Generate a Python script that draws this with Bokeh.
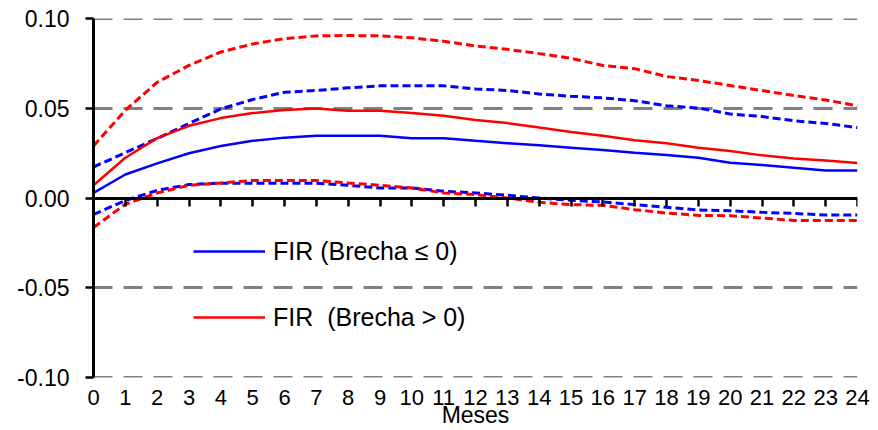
from bokeh.plotting import figure
from bokeh.models import LinearAxis, FixedTicker, Legend, LegendItem, Range1d
from bokeh.embed import file_html
from bokeh.resources import INLINE

months = list(range(25))

blue_mid = [0.0028, 0.0131, 0.0193, 0.0250, 0.0290, 0.0319, 0.0337, 0.0347, 0.0347, 0.0347,
            0.0334, 0.0334, 0.0319, 0.0306, 0.0294, 0.0281, 0.0268, 0.0253, 0.0240, 0.0225,
            0.0197, 0.0184, 0.0169, 0.0154, 0.0154]
blue_hi = [0.0173, 0.0253, 0.0332, 0.0416, 0.0497, 0.0550, 0.0590, 0.0600, 0.0615, 0.0626,
           0.0626, 0.0626, 0.0609, 0.0600, 0.0581, 0.0568, 0.0559, 0.0543, 0.0515, 0.0502,
           0.0469, 0.0455, 0.0431, 0.0416, 0.0393]
blue_lo = [-0.0092, -0.0014, 0.0042, 0.0075, 0.0083, 0.0083, 0.0083, 0.0083, 0.0071, 0.0056,
           0.0056, 0.0038, 0.0028, 0.0015, 0.0000, -0.0013, -0.0022, -0.0037, -0.0052, -0.0067,
           -0.0071, -0.0080, -0.0086, -0.0095, -0.0095]
red_mid = [0.0071, 0.0225, 0.0334, 0.0403, 0.0446, 0.0474, 0.0491, 0.0500, 0.0487, 0.0487,
           0.0474, 0.0459, 0.0435, 0.0418, 0.0393, 0.0369, 0.0347, 0.0323, 0.0306, 0.0281,
           0.0262, 0.0238, 0.0221, 0.0210, 0.0195]
red_hi = [0.0290, 0.0490, 0.0646, 0.0740, 0.0815, 0.0860, 0.0890, 0.0905, 0.0907, 0.0905,
          0.0894, 0.0875, 0.0849, 0.0830, 0.0806, 0.0780, 0.0740, 0.0722, 0.0678, 0.0656,
          0.0628, 0.0600, 0.0572, 0.0547, 0.0515]
red_lo = [-0.0165, -0.0035, 0.0028, 0.0071, 0.0084, 0.0098, 0.0098, 0.0098, 0.0084, 0.0071,
          0.0056, 0.0028, 0.0019, 0.0000, -0.0024, -0.0037, -0.0041, -0.0065, -0.0084, -0.0097,
          -0.0099, -0.0112, -0.0125, -0.0125, -0.0125]

y_ticks = [-0.10, -0.05, 0.0, 0.05, 0.10]
y_tick_labels = ["-0.10", "-0.05", "0.00", "0.05", "0.10"]
x_tick_labels = [str(m) for m in months]
x_title = "Meses"
legend_labels = ["FIR (Brecha \u2264 0)", "FIR \u00a0(Brecha > 0)"]

FONT = "Liberation Sans"
BLUE = "#0000FF"
RED = "#FF0000"

p = figure(width=878, height=430, output_backend="svg", toolbar_location=None,
           x_range=Range1d(0, 24), y_range=Range1d(-0.1002, 0.1002),
           min_border_left=93, min_border_right=21, min_border_top=18, min_border_bottom=53)
p.outline_line_color = None
p.background_fill_color = "white"
p.border_fill_color = "white"

# grid
p.xgrid.visible = False
p.ygrid.ticker = FixedTicker(ticks=y_ticks)
p.ygrid.grid_line_color = "#808080"
p.ygrid.grid_line_width = 3
p.ygrid.grid_line_dash = "19 11"

# y axis
ya = p.yaxis[0]
ya.ticker = FixedTicker(ticks=y_ticks)
ya.major_label_overrides = {t: l for t, l in zip(y_ticks, y_tick_labels)}
ya.major_label_text_font = FONT
ya.major_label_text_font_size = "23px"
ya.major_label_text_color = "black"
ya.major_label_standoff = 16
ya.axis_line_color = "black"
ya.axis_line_width = 3
ya.major_tick_line_color = "black"
ya.major_tick_line_width = 2.5
ya.major_tick_out = 8
ya.major_tick_in = 0
ya.minor_tick_line_color = None

# bottom axis: labels only
xa = p.xaxis[0]
xa.ticker = FixedTicker(ticks=months)
xa.major_label_overrides = {m: l for m, l in zip(months, x_tick_labels)}
xa.major_label_text_font = FONT
xa.major_label_text_font_size = "22px"
xa.major_label_text_color = "black"
xa.major_label_standoff = 12
xa.axis_line_color = None
xa.major_tick_line_color = None
xa.minor_tick_line_color = None
xa.major_tick_out = 0
xa.major_tick_in = 0
xa.axis_label = x_title
xa.axis_label_text_font = FONT
xa.axis_label_text_font_size = "23px"
xa.axis_label_text_font_style = "normal"
xa.axis_label_text_color = "black"
xa.axis_label_standoff = -6

# zero axis with ticks
za = LinearAxis(fixed_location=0, ticker=FixedTicker(ticks=months),
                major_label_overrides={m: "" for m in months},
                axis_line_color="black", axis_line_width=3,
                major_tick_line_color="black", major_tick_line_width=2.5,
                major_tick_out=8, major_tick_in=0,
                minor_tick_line_color=None, major_label_text_font_size="1px")
p.add_layout(za, "below")

# lines
r_bmid = p.line(months, blue_mid, line_color=BLUE, line_width=2.5)
p.line(months, blue_hi, line_color=BLUE, line_width=3, line_dash="8 4")
p.line(months, blue_lo, line_color=BLUE, line_width=3, line_dash="8 4")
r_rmid = p.line(months, red_mid, line_color=RED, line_width=2.5)
p.line(months, red_hi, line_color=RED, line_width=3, line_dash="8 4")
p.line(months, red_lo, line_color=RED, line_width=3, line_dash="8 4")

legend = Legend(items=[LegendItem(label=legend_labels[0], renderers=[r_bmid]),
                       LegendItem(label=legend_labels[1], renderers=[r_rmid])],
                location=(100, 45), orientation="vertical",
                glyph_width=72, glyph_height=30, label_height=30, spacing=36,
                label_standoff=8, padding=0, margin=0,
                border_line_color=None, background_fill_alpha=0,
                label_text_font=FONT, label_text_font_size="25px",
                label_text_color="black")
p.add_layout(legend)

open("out.html", "w").write(file_html(p, INLINE))
